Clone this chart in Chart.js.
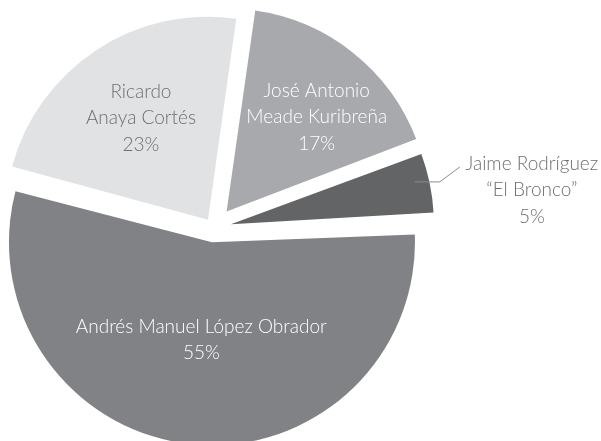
<!DOCTYPE html>
<html><head><meta charset="utf-8">
<script src="https://cdn.jsdelivr.net/npm/chart.js@4"></script>
<style>html,body{margin:0;padding:0;background:#fff;} canvas{display:block;}</style>
</head><body>
<canvas id="c" width="601" height="441"></canvas>
<script>
// ---- data ----
const candidates = ['José Antonio Meade Kuribreña', 'Jaime Rodríguez “El Bronco”', 'Andrés Manuel López Obrador', 'Ricardo Anaya Cortés'];
const labelLines = [['José Antonio', 'Meade Kuribreña'], ['Jaime Rodríguez', '“El Bronco”'], ['Andrés Manuel López Obrador'], ['Ricardo', 'Anaya Cortés']];
const shares = [17, 5, 55, 23];
const shareLabels = ['17%', '5%', '55%', '23%'];

// ---- style ----
const colors = ['#a7a9ac', '#636466', '#808285', '#e1e2e3'];
const offsets = [84, 71, 57, 40];
const R = 203;
const labelStyle = [
  {frac: 0.644, dAng: 5, color: '#ffffff'},
  {outside: true, color: '#6d6e71'},
  {frac: 0.484, dAng: 0, color: '#ffffff'},
  {frac: 0.60, dAng: 0, color: '#6d6e71'}
];
const FONT = '300 19px Lato';
const LINE_H = 26.5;

const radiusFix = {
  id: 'radiusFix',
  afterDatasetsUpdate(chart) {
    const meta = chart.getDatasetMeta(0);
    meta.data.forEach((el, i) => {
      const t = offsets[i] / 4;
      const fix = 1 - Math.sin(Math.min(Math.PI, el.circumference));
      el.outerRadius = R - t * fix;
    });
  }
};

const sliceLabels = {
  id: 'sliceLabels',
  afterDatasetsDraw(chart) {
    const ctx = chart.ctx;
    const meta = chart.getDatasetMeta(0);
    ctx.save();
    ctx.font = FONT;
    ctx.textAlign = 'center';
    ctx.textBaseline = 'middle';
    meta.data.forEach((el, i) => {
      const mid = (el.startAngle + el.endAngle) / 2;
      const t = offsets[i] / 4;
      const cx = el.x + Math.cos(mid) * t;
      const cy = el.y + Math.sin(mid) * t;
      const st = labelStyle[i];
      const lines = labelLines[i].concat([shareLabels[i]]);
      let bx, by;
      if (st.outside) {
        const a = mid - 1.2 * Math.PI / 180;
        const sx = cx + Math.cos(a) * R * 0.93;
        const sy = cy + Math.sin(a) * R * 0.93;
        const mx = sx + 25, my = sy;
        const ex = mx + 20, ey = my - 15;
        ctx.strokeStyle = '#8a8c8e';
        ctx.lineWidth = 1;
        ctx.beginPath();
        ctx.moveTo(sx, sy); ctx.lineTo(mx, my); ctx.lineTo(ex, ey);
        ctx.stroke();
        bx = ex + 72; by = ey + 23;
      } else {
        const a = mid + st.dAng * Math.PI / 180;
        bx = cx + Math.cos(a) * R * st.frac;
        by = cy + Math.sin(a) * R * st.frac;
      }
      ctx.fillStyle = st.color;
      const y0 = by - (lines.length - 1) * LINE_H / 2;
      lines.forEach((ln, k) => ctx.fillText(ln, bx, y0 + k * LINE_H));
    });
    ctx.restore();
  }
};

new Chart(document.getElementById('c'), {
  type: 'pie',
  data: {
    labels: candidates,
    datasets: [{
      data: shares,
      backgroundColor: colors,
      borderWidth: 0,
      offset: offsets
    }]
  },
  options: {
    responsive: false,
    devicePixelRatio: 1,
    animation: false,
    rotation: 8,
    radius: R,
    layout: {padding: {left: 0, right: 174, top: 15, bottom: 0}},
    plugins: {legend: {display: false}, tooltip: {enabled: false}},
    events: []
  },
  plugins: [radiusFix, sliceLabels]
});
</script>
</body></html>
